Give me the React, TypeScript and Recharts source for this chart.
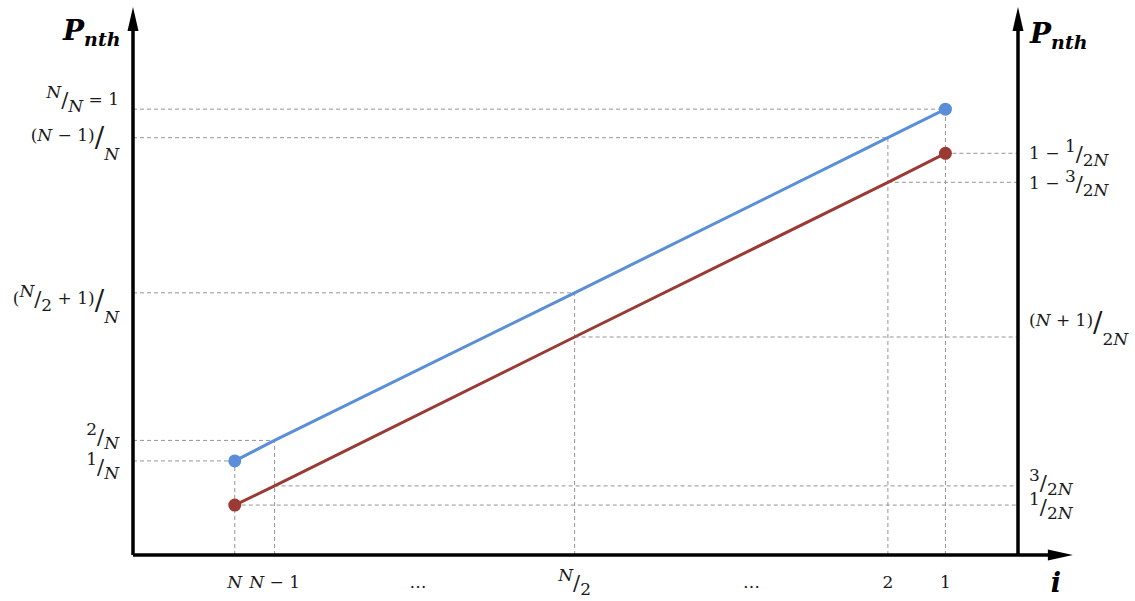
import { LineChart, Line, XAxis, YAxis, ReferenceLine, ReferenceDot } from "recharts";

// schematic position of each i along the horizontal axis (left axis = 0, right axis = 100)
const iLabels = ["N", "N − 1", "^N/_2", "2", "1"];
const iPos = [11.5, 16.0, 49.9, 85.3, 91.8];
const gapPos = [32.2, 69.9];

// upper line (left scale) and lower line (right scale), schematic heights
const upperVals = [21.1, 25.7, 58.8, 93.6, 100];
const upperLabels = ["^1/_N", "^2/_N", "(^N/_2 + 1)/__N", "(N − 1)/__N", "^N/_N = 1"];
const lowerVals = [11.2, 15.5, 48.9, 83.6, 90.1];
const lowerLabels = ["^1/_2N", "^3/_2N", "(N + 1)/__2N", "1 − ^3/_2N", "1 − ^1/_2N"];

const W = 1135;
const H = 601;
const LEFT = 133;
const RIGHT_W = 117;
const TOP = 20;
const BOTTOM_H = 46;
const PLOT_BOTTOM = H - BOTTOM_H;

const BLUE = "#5A8ED8";
const RED = "#9B3A35";
const GRID = "#959595";
const INK = "#1a1a1a";
const FONT = "'DejaVu Serif', serif";

// small vertical nudges so stacked labels don't collide (as in the drawing)
const leftNudge = [5, -4, 5, -3, -10];
const rightNudge = [1, -4, -17, 1, 0];

const rows = iPos.map((p, k) => ({ pos: p, upper: upperVals[k], lower: lowerVals[k] }));

type Seg = { t: string; lift: number };

function parseMath(s: string): Seg[] {
  const segs: Seg[] = [];
  let buf = "";
  let i = 0;
  const flush = () => {
    if (buf) segs.push({ t: buf, lift: 0 });
    buf = "";
  };
  while (i < s.length) {
    const c = s[i];
    if (c === "^" || c === "_") {
      flush();
      let lift = c === "^" ? -7 : 7;
      i++;
      if (s[i] === "_") {
        lift = 19;
        i++;
      }
      let tok = "";
      while (i < s.length && !" /)".includes(s[i])) {
        tok += s[i];
        i++;
      }
      segs.push({ t: tok, lift });
    } else {
      buf += c;
      i++;
    }
  }
  flush();
  return segs;
}

function MathText({ s, x, y, anchor }: { s: string; x: number; y: number; anchor: "start" | "middle" | "end" }) {
  const parts: { t: string; lift: number; size: number; italic: boolean }[] = [];
  for (const seg of parseMath(s)) {
    const str = seg.t;
    let k = 0;
    while (k < str.length) {
      if (str[k] === "/") {
        const big = str[k - 1] === ")";
        parts.push({ t: "/", lift: seg.lift + (big ? 6 : 2), size: big ? 28 : 21, italic: false });
        k++;
        continue;
      }
      const isLetter = /[A-Za-z]/.test(str[k]);
      let run = "";
      while (k < str.length && str[k] !== "/" && /[A-Za-z]/.test(str[k]) === isLetter) {
        run += str[k];
        k++;
      }
      parts.push({ t: run, lift: seg.lift, size: 17, italic: isLetter });
    }
  }
  let cur = 0;
  return (
    <text x={x} y={y} textAnchor={anchor} fontFamily={FONT} fill={INK} style={{ whiteSpace: "pre" }}>
      {parts.map((p, i) => {
        const dy = p.lift - cur;
        cur = p.lift;
        return (
          <tspan key={i} dy={dy} fontSize={p.size} fontStyle={p.italic ? "italic" : "normal"}>
            {p.t}
          </tspan>
        );
      })}
    </text>
  );
}

function XTick(props: any) {
  const v = props.payload.value;
  const k = iPos.indexOf(v);
  const label = k >= 0 ? iLabels[k] : "…";
  return <MathText s={label} x={props.x} y={PLOT_BOTTOM + 33} anchor="middle" />;
}

function LeftTick(props: any) {
  const k = upperVals.indexOf(props.payload.value);
  return <MathText s={upperLabels[k]} x={LEFT - 14} y={props.y + 6 + leftNudge[k]} anchor="end" />;
}

function RightTick(props: any) {
  const k = lowerVals.indexOf(props.payload.value);
  return <MathText s={lowerLabels[k]} x={W - RIGHT_W + 11} y={props.y + 6 + rightNudge[k]} anchor="start" />;
}

const arrowUp = (p: any) => (
  <polygon points={`${p.cx},${p.cy - 13} ${p.cx - 5.5},${p.cy + 11} ${p.cx + 5.5},${p.cy + 11}`} fill="#000" />
);
const arrowRight = (p: any) => (
  <polygon points={`${p.cx},${p.cy} ${p.cx - 25},${p.cy - 5.5} ${p.cx - 25},${p.cy + 5.5}`} fill="#000" />
);

function endDots(color: string) {
  return (p: any) =>
    p.index === 0 || p.index === rows.length - 1 ? (
      <circle key={p.index} cx={p.cx} cy={p.cy} r={6.5} fill={color} stroke="none" />
    ) : (
      <g key={p.index} />
    );
}

export default function App() {
  return (
    <div style={{ position: "absolute", left: 0, top: 0, width: W, height: H, background: "#fff" }}>
      <LineChart width={W} height={H} data={rows} margin={{ top: TOP, right: 0, bottom: 0, left: 0 }}>
        <XAxis
          dataKey="pos"
          type="number"
          domain={[0, 100]}
          ticks={[...iPos, ...gapPos]}
          interval={0}
          tick={<XTick />}
          axisLine={false}
          tickLine={false}
          height={BOTTOM_H}
          allowDataOverflow
        />
        <YAxis
          yAxisId="left"
          type="number"
          domain={[0, 120]}
          ticks={upperVals}
          interval={0}
          tick={<LeftTick />}
          axisLine={false}
          tickLine={false}
          width={LEFT}
          allowDataOverflow
        />
        <YAxis
          yAxisId="right"
          orientation="right"
          type="number"
          domain={[0, 120]}
          ticks={lowerVals}
          interval={0}
          tick={<RightTick />}
          axisLine={false}
          tickLine={false}
          width={RIGHT_W}
          allowDataOverflow
        />

        {iPos.map((p, k) => (
          <ReferenceLine
            key={`hl${k}`}
            yAxisId="left"
            segment={[{ x: 0, y: upperVals[k] }, { x: p, y: upperVals[k] }]}
            stroke={GRID}
            strokeDasharray="4 3"
            ifOverflow="visible"
          />
        ))}
        {iPos.map((p, k) => (
          <ReferenceLine
            key={`hr${k}`}
            yAxisId="right"
            segment={[{ x: p, y: lowerVals[k] }, { x: 100, y: lowerVals[k] }]}
            stroke={GRID}
            strokeDasharray="4 3"
            ifOverflow="visible"
          />
        ))}
        {iPos.map((p, k) => (
          <ReferenceLine
            key={`v${k}`}
            yAxisId="left"
            segment={[{ x: p, y: 0 }, { x: p, y: upperVals[k] }]}
            stroke={GRID}
            strokeDasharray="4 3"
            ifOverflow="visible"
          />
        ))}

        <ReferenceLine yAxisId="left" segment={[{ x: 0, y: 0 }, { x: 0, y: 118 }]} stroke="#000" strokeWidth={3.5} ifOverflow="visible" />
        <ReferenceLine yAxisId="left" segment={[{ x: 100, y: 0 }, { x: 100, y: 118 }]} stroke="#000" strokeWidth={3.5} ifOverflow="visible" />
        <ReferenceLine yAxisId="left" segment={[{ x: 0, y: 0 }, { x: 103.8, y: 0 }]} stroke="#000" strokeWidth={3.5} ifOverflow="visible" />
        <ReferenceDot yAxisId="left" x={0} y={120} ifOverflow="visible" shape={arrowUp} />
        <ReferenceDot yAxisId="left" x={100} y={120} ifOverflow="visible" shape={arrowUp} />
        <ReferenceDot yAxisId="left" x={106.2} y={0} ifOverflow="visible" shape={arrowRight} />

        <Line yAxisId="left" dataKey="upper" stroke={BLUE} strokeWidth={3} dot={endDots(BLUE)} activeDot={false} isAnimationActive={false} />
        <Line yAxisId="right" dataKey="lower" stroke={RED} strokeWidth={3} dot={endDots(RED)} activeDot={false} isAnimationActive={false} />

        <text x={63} y={40} fontFamily={FONT} fontWeight="bold" fontStyle="italic" fill="#000">
          <tspan fontSize={28}>P</tspan>
          <tspan fontSize={19} dy={6}>nth</tspan>
        </text>
        <text x={1030} y={43} fontFamily={FONT} fontWeight="bold" fontStyle="italic" fill="#000">
          <tspan fontSize={28}>P</tspan>
          <tspan fontSize={19} dy={6}>nth</tspan>
        </text>
        <text x={1056} y={592} textAnchor="middle" fontFamily={FONT} fontWeight="bold" fontStyle="italic" fontSize={27} fill="#000">
          i
        </text>
      </LineChart>
    </div>
  );
}
